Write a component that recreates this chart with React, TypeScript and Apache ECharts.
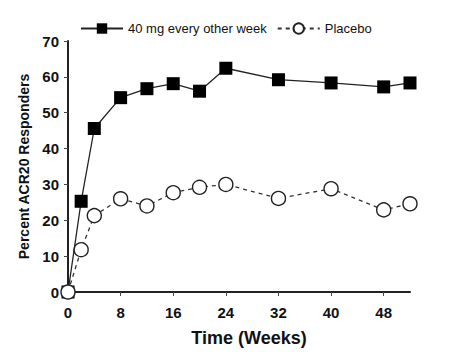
import React, { useEffect, useRef } from "react";
import * as echarts from "echarts";

const weeks = [0, 2, 4, 8, 12, 16, 20, 24, 32, 40, 48, 52];
const drug = [0, 25.3, 45.6, 54.2, 56.7, 58.1, 56.0, 62.4, 59.2, 58.3, 57.2, 58.3];
const placebo = [0, 11.8, 21.3, 26.0, 24.0, 27.7, 29.2, 30.0, 26.1, 28.8, 22.9, 24.6];
const seriesNames = ["40 mg every other week", "Placebo"];

export default function App() {
  const ref = useRef<HTMLDivElement>(null);
  useEffect(() => {
    const chart = echarts.init(ref.current!, null, { renderer: "svg" });
    const font = "'Liberation Sans', Arial, sans-serif";
    chart.setOption({
      animation: false,
      backgroundColor: "#fff",
      textStyle: { fontFamily: font },
      legend: {
        top: 17,
        left: 75,
        itemWidth: 42,
        itemHeight: 13,
        itemGap: 10,
        textStyle: { fontSize: 13, color: "#111", fontFamily: font },
        data: seriesNames,
      },
      grid: { left: 68, right: 48, top: 41, bottom: 57, containLabel: false },
      xAxis: {
        type: "value",
        min: 0,
        max: 52,
        interval: 8,
        name: "Time (Weeks)",
        nameLocation: "middle",
        nameGap: 37,
        nameTextStyle: {
          fontSize: 18,
          fontWeight: "bold",
          color: "#111",
          fontFamily: font,
          padding: [0, 0, 0, 20],
        },
        axisLine: { lineStyle: { color: "#222", width: 2 } },
        axisTick: { show: true, length: 4, lineStyle: { color: "#444" } },
        axisLabel: {
          fontSize: 15,
          fontWeight: "bold",
          color: "#111",
          margin: 13,
          showMaxLabel: false,
          fontFamily: font,
        },
        splitLine: { show: false },
      },
      yAxis: {
        type: "value",
        min: 0,
        max: 70,
        interval: 10,
        name: "Percent ACR20 Responders",
        nameLocation: "middle",
        nameGap: 35,
        nameTextStyle: { fontSize: 14, fontWeight: "bold", color: "#111", fontFamily: font },
        axisLine: { show: true, lineStyle: { color: "#222", width: 2 } },
        axisTick: { show: true, length: 4, lineStyle: { color: "#444" } },
        axisLabel: { fontSize: 15, fontWeight: "bold", color: "#111", margin: 9, fontFamily: font },
        splitLine: { show: false },
      },
      series: [
        {
          name: seriesNames[0],
          type: "line",
          data: weeks.map((w, i) => [w, drug[i]]),
          symbol: "rect",
          symbolSize: 13,
          itemStyle: { color: "#000" },
          lineStyle: { color: "#222", width: 1.3, type: "solid" },
          z: 2,
        },
        {
          name: seriesNames[1],
          type: "line",
          data: weeks.map((w, i) => [w, placebo[i]]),
          symbol: "circle",
          symbolSize: 14,
          itemStyle: { color: "#fff", borderColor: "#222", borderWidth: 1.4 },
          lineStyle: { color: "#333", width: 1.3, type: [4, 4] },
          z: 3,
        },
      ],
    });
    return () => chart.dispose();
  }, []);
  return <div ref={ref} style={{ width: 458, height: 352, position: "absolute", left: 0, top: 0 }} />;
}
